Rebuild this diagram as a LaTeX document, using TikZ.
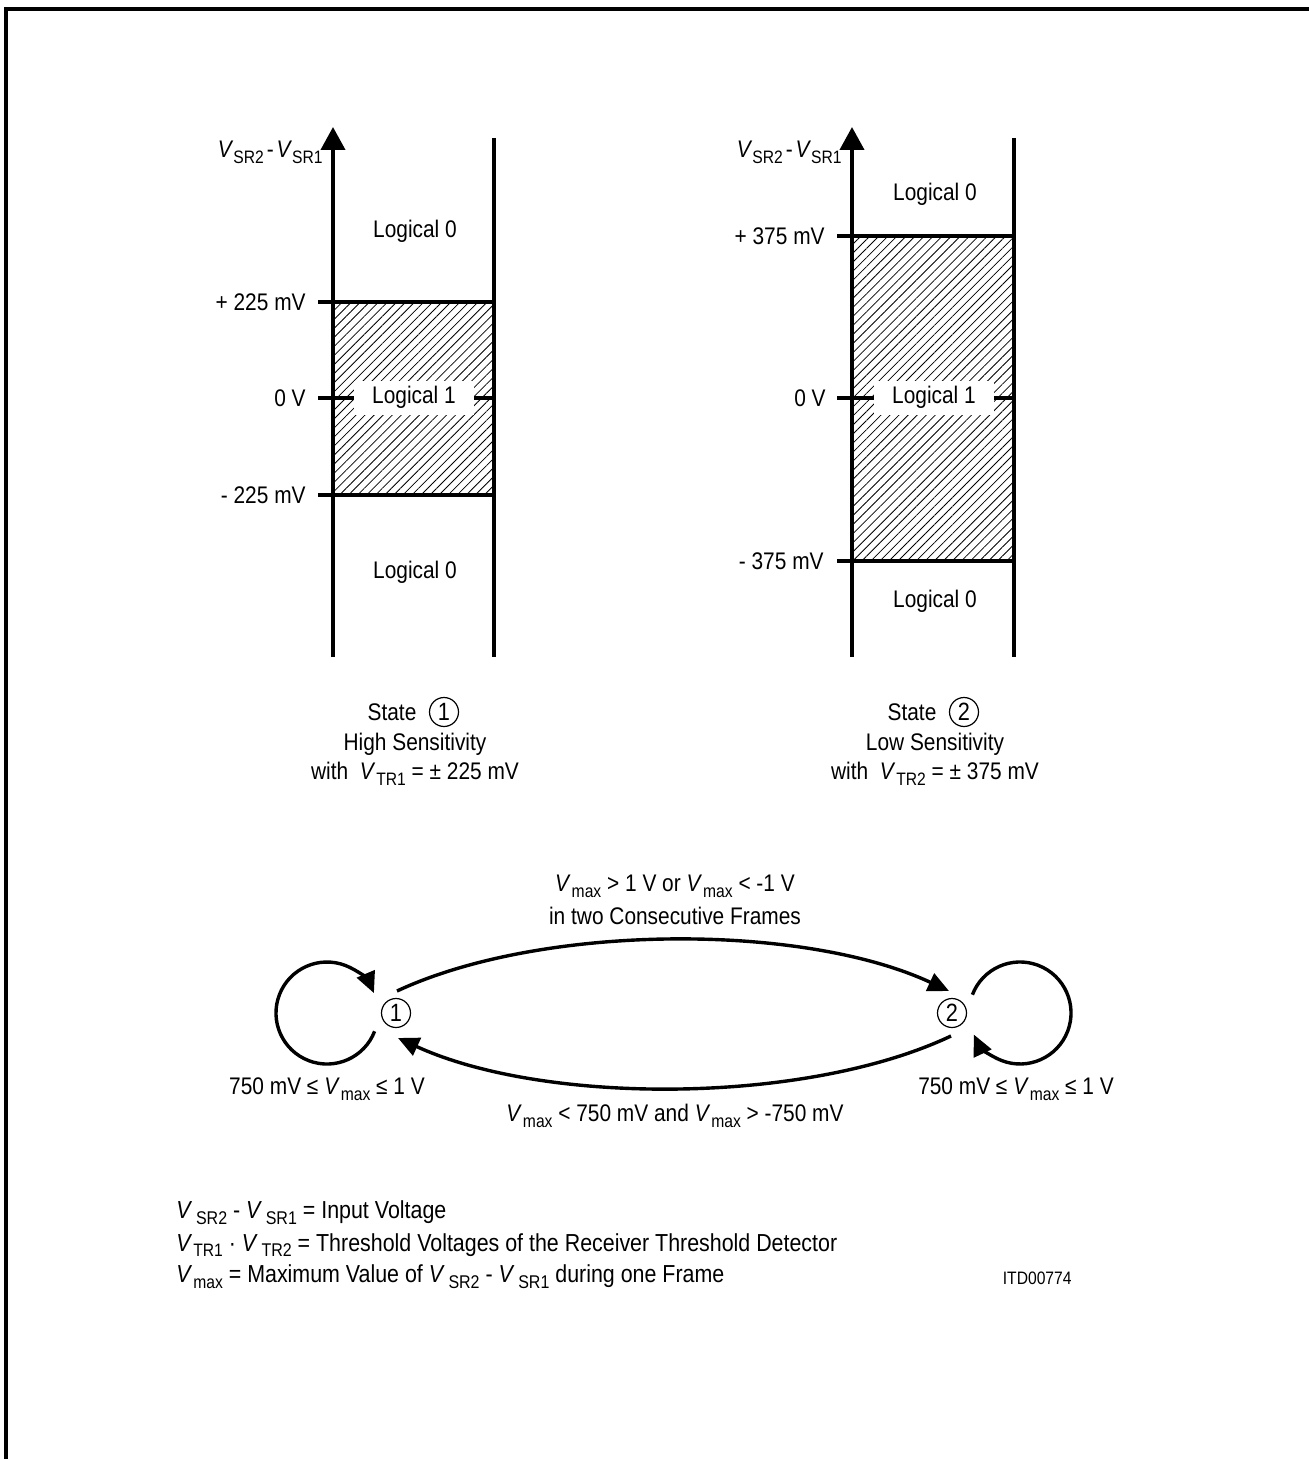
\documentclass[tikz,border=0pt]{standalone}
\usepackage{fontspec}
\setmainfont{Liberation Sans}[FakeStretch=0.87]
\usetikzlibrary{arrows.meta,patterns.meta,calc}
\newcommand\Vsub[1]{\textit{V}\kern0.04em\raisebox{-0.45ex}{\fontsize{9}{10}\selectfont #1}}
\newcommand\Vsb[1]{\textit{V}\kern0.15em\raisebox{-0.45ex}{\fontsize{9.2}{10}\selectfont #1}}
\newcommand\Vax[1]{\textit{V}\raisebox{-0.45ex}{\fontsize{9}{10}\selectfont #1}}
\begin{document}
\begin{tikzpicture}[x=0.5pt,y=-0.5pt,
  every node/.style={font=\fontsize{12}{14}\selectfont, inner sep=0pt},
  legend/.style={anchor=west, font=\fontsize{12.3}{14}\selectfont},
  mainline/.style={line width=2pt},
  arcline/.style={line width=1.7pt},
  hatch/.style={pattern={Lines[angle=45,distance=3.2pt,line width=0.4pt]}},
  axisarrow/.style={-{Triangle[length=11.5pt,width=12pt]}},
  arcarrow/.style={-{Triangle[length=10.5pt,width=9.5pt]}},
  cnum/.style={circle, draw, line width=0.6pt, minimum size=14.5pt, inner sep=0pt, font=\fontsize{12.5}{14}\selectfont},
  logic/.style={text height=8.5pt, text depth=2.5pt},
  whitebox/.style={fill=white, inner xsep=9pt, inner ysep=3pt, text height=8.5pt, text depth=2.5pt},
  vlabel/.style={anchor=east}
]
\useasboundingbox (0,0) rectangle (1309,1459);
% frame
\draw[line width=2pt] (6,1459) -- (6,9) -- (1309,9);

% ---------- left chart ----------
\fill[hatch] (333,302) rectangle (494,495);
\draw[mainline,axisarrow] (333,657) -- (333,127);
\draw[mainline] (494,138) -- (494,657);
\draw[mainline] (318,302) -- (494,302);
\draw[mainline] (318,495) -- (494,495);
\draw[mainline] (318,398) -- (494,398);
\node[whitebox] (la1) at (414,398) {Logical 1};
\node[logic] (la0t) at (415,232) {Logical 0};
\node[logic] (la0b) at (415,572) {Logical 0};
\node[vlabel] (lay) at (323,152) {\Vax{SR2}\kern0.12em-\kern0.12em\Vax{SR1}};
\node[vlabel] (lap) at (306,302) {+ 225 mV};
\node[vlabel] (la0) at (306,398) {0 V};
\node[vlabel] (lam) at (306,495) {- 225 mV};

% ---------- right chart ----------
\fill[hatch] (852,236) rectangle (1014,561);
\draw[mainline,axisarrow] (852,657) -- (852,127);
\draw[mainline] (1014,138) -- (1014,657);
\draw[mainline] (837,236) -- (1014,236);
\draw[mainline] (837,561) -- (1014,561);
\draw[mainline] (837,398) -- (1014,398);
\node[whitebox] (lb1) at (934,398) {Logical 1};
\node[logic] (lb0t) at (935,195) {Logical 0};
\node[logic] (lb0b) at (935,601) {Logical 0};
\node[vlabel] (lby) at (842,152) {\Vax{SR2}\kern0.12em-\kern0.12em\Vax{SR1}};
\node[vlabel] (lbp) at (825,236) {+ 375 mV};
\node[vlabel] (lb0) at (826,398) {0 V};
\node[vlabel] (lbm) at (824,561) {- 375 mV};

% ---------- captions ----------
\node (s1) at (392,712) {State};
\node[cnum] (s1c) at (444,712) {1};
\node (h1) at (415,744) {High Sensitivity};
\node (w1) at (415,774) {with\ \ \Vsub{TR1} = ± 225 mV};
\node (s2) at (912,712) {State};
\node[cnum] (s2c) at (964,712) {2};
\node (h2) at (935,744) {Low Sensitivity};
\node (w2) at (935,774) {with\ \ \Vsub{TR2} = ± 375 mV};

% ---------- state diagram ----------
\node[cnum] (n1) at (396,1013) {1};
\node[cnum] (n2) at (952,1013) {2};
\draw[arcline,arcarrow] ($(n1)+(1,-22)$) .. controls ($(n1)+(147,-90)$) and ($(n2)+(-149,-90)$) .. ($(n2)+(-3,-22)$);
\draw[arcline,arcarrow] ($(n2)+(-1,23)$) .. controls ($(n2)+(-147,92)$) and ($(n1)+(148,92)$) .. ($(n1)+(2,25)$);
\draw[arcline,arcarrow] ($(n1)+(-21.4,18.3)$) arc[start angle=-21,end angle=-337,radius=25.5pt];
\draw[arcline,arcarrow] ($(n2)+(20.4,-18.3)$) arc[start angle=159,end angle=-155,radius=25.5pt];
\node (t1) at (675,886) {\Vsub{max} > 1 V or \Vsub{max} < -1 V};
\node (t2) at (675,916) {in two Consecutive Frames};
\node (b1) at (675,1116) {\Vsub{max} < 750 mV and \Vsub{max} > -750 mV};
\node (ll) at (327,1089) {750 mV ≤ \Vsub{max} ≤ 1 V};
\node (rl) at (1016,1089) {750 mV ≤ \Vsub{max} ≤ 1 V};

% ---------- legend ----------
\node[legend] (g1) at (176,1213) {\Vsb{SR2} - \Vsb{SR1} = Input Voltage};
\node[legend] (g2) at (176,1245) {\Vsub{TR1} · \Vsb{TR2} = Threshold Voltages of the Receiver Threshold Detector};
\node[legend] (g3) at (176,1277) {\Vsub{max} = Maximum Value of \Vsb{SR2} - \Vsb{SR1} during one Frame};
\node[anchor=east, font=\fontsize{9}{11}\selectfont] (id) at (1072,1278) {ITD00774};
\end{tikzpicture}
\end{document}
